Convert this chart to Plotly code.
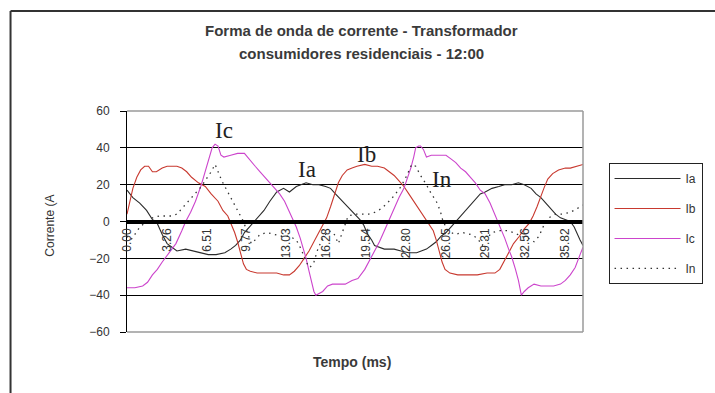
import plotly.graph_objects as go

# Current waveforms (time in ms, current in A) for the residential transformer at 12:00
IA = [(0.00, 17), (0.48, 13), (1.04, 10), (1.60, 6), (2.08, 1), (2.40, 0), (2.88, -7), (3.28, -12),
      (3.68, -14), (4.08, -16), (4.80, -15), (5.44, -16), (6.08, -17), (6.64, -18), (7.28, -18),
      (8.00, -17), (8.48, -15), (8.88, -13), (9.28, -10), (9.60, -6), (10.00, -3), (10.40, 0),
      (10.80, 3), (11.20, 6), (11.68, 11), (12.24, 16), (12.80, 18), (13.28, 16), (13.84, 19),
      (14.64, 21), (15.20, 20), (15.68, 20), (16.24, 19), (16.64, 18), (17.04, 15), (17.60, 11),
      (18.08, 8), (18.64, 4), (19.04, 1), (19.36, -2), (19.68, -7), (20.00, -10), (20.24, -13),
      (21.04, -15), (21.84, -15), (22.40, -16), (23.04, -17), (23.68, -17), (24.08, -16),
      (24.48, -15), (24.88, -13), (25.28, -11), (25.68, -8), (26.08, -6), (26.48, -3), (26.88, 0),
      (27.28, 3), (27.68, 6), (28.08, 9), (28.48, 12), (28.88, 15), (29.28, 16), (29.84, 18),
      (30.40, 19), (30.88, 20), (31.44, 20), (32.00, 21), (32.48, 20), (33.04, 18), (33.44, 15),
      (33.84, 13), (34.24, 10), (34.64, 7), (35.04, 4), (35.44, 2), (35.84, 1), (36.24, 0),
      (36.56, -3), (36.80, -7), (37.04, -10), (37.28, -13)]

IB = [(0.00, 4), (0.24, 11), (0.48, 18), (0.80, 24), (1.12, 28), (1.44, 30), (1.76, 30), (2.08, 27),
      (2.40, 27), (2.88, 29), (3.28, 30), (3.68, 30), (4.08, 30), (4.48, 29), (4.88, 27), (5.28, 24),
      (5.84, 21), (6.40, 19), (6.88, 15), (7.44, 11), (7.84, 6), (8.24, 3), (8.56, -2), (8.80, -6),
      (9.04, -11), (9.28, -17), (9.52, -23), (9.76, -26), (10.08, -27), (10.64, -28), (11.20, -28),
      (11.68, -28), (12.24, -28), (12.80, -29), (13.28, -29), (13.68, -27), (14.08, -24),
      (14.48, -20), (14.88, -16), (15.28, -11), (15.68, -6), (16.00, -2), (16.32, 2), (16.64, 8),
      (16.96, 15), (17.28, 21), (17.60, 25), (18.00, 28), (18.40, 29), (18.80, 30), (19.44, 31),
      (20.00, 30), (20.48, 30), (21.04, 29), (21.44, 27), (21.84, 25), (22.24, 22), (22.64, 19),
      (23.04, 15), (23.44, 11), (23.84, 7), (24.24, 3), (24.64, -1), (25.04, -5), (25.28, -10),
      (25.52, -16), (25.76, -22), (26.00, -26), (26.40, -28), (27.04, -29), (27.84, -29),
      (28.64, -29), (29.44, -28), (30.08, -28), (30.48, -26), (30.80, -22), (31.20, -17),
      (31.60, -12), (32.08, -8), (32.48, -4), (32.88, -1), (33.20, 3), (33.52, 8), (33.84, 14),
      (34.08, 18), (34.40, 23), (34.80, 26), (35.28, 28), (35.84, 29), (36.24, 29), (36.72, 30),
      (37.28, 31)]

IC = [(0.00, -36), (0.64, -36), (1.28, -35), (1.68, -33), (2.08, -29), (2.48, -26), (2.88, -22),
      (3.44, -17), (4.00, -12), (4.48, -5), (4.80, 0), (5.20, 5), (5.60, 11), (6.08, 20), (6.40, 27),
      (6.72, 34), (6.96, 40), (7.20, 42), (7.44, 41), (7.68, 36), (7.92, 35), (8.48, 36), (9.04, 37),
      (9.60, 37), (10.08, 33), (10.48, 30), (10.88, 27), (11.28, 24), (11.68, 21), (12.08, 18),
      (12.48, 15), (12.88, 11), (13.28, 5), (13.60, 1), (13.84, -3), (14.16, -9), (14.40, -14),
      (14.64, -20), (14.88, -27), (15.12, -33), (15.28, -38), (15.44, -40), (15.68, -39),
      (16.00, -38), (16.40, -35), (16.80, -34), (17.28, -34), (17.84, -34), (18.40, -32),
      (18.88, -31), (19.44, -26), (19.84, -21), (20.24, -16), (20.64, -11), (21.04, -5), (21.44, 1),
      (21.84, 8), (22.24, 13), (22.64, 18), (22.96, 24), (23.20, 29), (23.44, 35), (23.60, 40),
      (23.84, 41), (24.00, 41), (24.24, 39), (24.48, 35), (24.88, 36), (25.28, 36), (25.68, 36),
      (26.08, 36), (26.48, 34), (26.88, 32), (27.28, 29), (27.68, 27), (28.08, 24), (28.48, 21),
      (28.88, 17), (29.28, 15), (29.68, 10), (30.08, 4), (30.48, -2), (30.88, -9), (31.20, -15),
      (31.44, -19), (31.76, -26), (32.00, -32), (32.24, -40), (32.48, -38), (32.80, -36),
      (33.28, -34), (33.84, -35), (34.40, -35), (34.88, -35), (35.44, -34), (35.84, -32),
      (36.24, -29), (36.64, -25), (37.04, -18), (37.28, -14)]

IN = [(0.00, -8), (0.32, -10), (0.64, -7), (1.04, -3), (1.60, 0), (2.08, 2), (2.64, 3), (3.20, 3),
      (3.68, 3), (4.08, 4), (4.48, 7), (4.88, 10), (5.28, 13), (5.68, 16), (6.08, 19), (6.48, 23),
      (6.88, 27), (7.20, 31), (7.44, 27), (7.76, 22), (8.16, 17), (8.56, 12), (8.88, 8), (9.20, 4),
      (9.52, 0), (9.84, -6), (10.16, -12), (10.48, -10), (10.88, -7), (11.44, -6), (12.00, -7),
      (12.64, -8), (13.28, -8), (13.84, -10), (14.24, -15), (14.64, -22), (14.96, -25),
      (15.28, -22), (15.60, -15), (16.00, -9), (16.48, -5), (16.88, -6), (17.28, -12), (17.68, -4),
      (18.08, 3), (18.64, 4), (19.20, 4), (19.76, 4), (20.24, 5), (20.80, 7), (21.28, 10),
      (21.84, 14), (22.40, 19), (22.88, 25), (23.28, 31), (23.60, 30), (24.00, 25), (24.48, 20),
      (24.88, 15), (25.28, 11), (25.60, 6), (25.84, 0), (26.24, -5), (26.80, -7), (27.44, -6),
      (28.08, -7), (28.64, -9), (29.04, -13), (29.44, -9), (29.84, -6), (30.48, -5), (31.04, -5),
      (31.60, -6), (32.24, -8), (32.80, -9), (33.28, -11), (33.68, -8), (34.08, -2), (34.48, 2),
      (35.04, 4), (35.60, 4), (36.24, 5), (36.80, 7), (37.28, 9)]

TICK_MS = [0.00, 3.26, 6.51, 9.77, 13.03, 16.28, 19.54, 22.80, 26.05, 29.31, 32.56, 35.82]
TICK_TEXT = ["0.00", "3.26", "6.51", "9.77", "13.03", "16.28", "19.54", "22.80",
             "26.05", "29.31", "32.56", "35.82"]
Y_TICKS = [-60, -40, -20, 0, 20, 40, 60]

SERIES = [
    ("Ia", IA, dict(color="#2b2b2b", width=1.1)),
    ("Ib", IB, dict(color="#c8392f", width=1.1)),
    ("Ic", IC, dict(color="#cc44cc", width=1.1)),
    ("In", IN, dict(color="#333333", width=1.3, dash="1.5px,4.5px")),
]

# In-plot series captions (time ms, current A)
CAPTIONS = [("Ic", 7.92, 49.2), ("Ia", 14.72, 28.1), ("Ib", 19.60, 36.2), ("In", 25.76, 22.7)]

fig = go.Figure()
for name, pts, line in SERIES:
    fig.add_trace(go.Scatter(
        x=[p[0] for p in pts], y=[p[1] for p in pts], name=name, mode="lines",
        line=line, legendgroup=name,
    ))

sans = "Liberation Sans, Arial, sans-serif"
serif = "Liberation Serif, Times New Roman, serif"

annotations = [
    dict(text="<b>Forma de onda de corrente - Transformador</b>", x=0.515, y=1.362,
         xref="paper", yref="paper", showarrow=False, xanchor="center", yanchor="middle",
         font=dict(family=sans, size=15, color="#3a3a3a")),
    dict(text="<b>consumidores residenciais - 12:00</b>", x=0.515, y=1.258,
         xref="paper", yref="paper", showarrow=False, xanchor="center", yanchor="middle",
         font=dict(family=sans, size=15, color="#3a3a3a")),
    dict(text="<b>Tempo (ms)</b>", x=0.494, y=-0.136, xref="paper", yref="paper",
         showarrow=False, xanchor="center", yanchor="middle",
         font=dict(family=sans, size=14, color="#3a3a3a")),
    dict(text="Corrente (A", x=-0.1695, y=0.48, xref="paper", yref="paper", textangle=-90,
         showarrow=False, xanchor="center", yanchor="middle",
         font=dict(family=sans, size=12, color="#333")),
]
for label, tx, vy in CAPTIONS:
    annotations.append(dict(text=label, x=tx, y=vy, xref="x", yref="y", showarrow=False,
                            xanchor="center", yanchor="middle",
                            font=dict(family=serif, size=23, color="#222")))

shapes = [
    # plot-area frame (top, right, bottom)
    dict(type="line", xref="paper", yref="paper", x0=0, x1=1, y0=1, y1=1,
         line=dict(color="#9a9a9a", width=1.5), layer="above"),
    dict(type="line", xref="paper", yref="paper", x0=1, x1=1, y0=0, y1=1,
         line=dict(color="#9a9a9a", width=1.5), layer="above"),
    dict(type="line", xref="paper", yref="paper", x0=0, x1=1, y0=0, y1=0,
         line=dict(color="#9a9a9a", width=1.5), layer="above"),
    # chart-area frame (left and top edges)
    dict(type="line", xref="paper", yref="paper", x0=-0.2554, x1=-0.2554, y0=-0.3, y1=1.452,
         line=dict(color="#333", width=2)),
    dict(type="line", xref="paper", yref="paper", x0=-0.2554, x1=1.3, y0=1.452, y1=1.452,
         line=dict(color="#333", width=2)),
]

fig.update_layout(
    width=715, height=393,
    margin=dict(l=127, r=122, t=111, b=61),
    paper_bgcolor="white", plot_bgcolor="white",
    showlegend=True,
    legend=dict(x=1.056, y=0.765, xanchor="left", yanchor="top",
                bordercolor="#222", borderwidth=1, bgcolor="white",
                font=dict(family=sans, size=12, color="#333"),
                tracegroupgap=11, itemwidth=66, traceorder="grouped"),
    annotations=annotations,
    shapes=shapes,
    xaxis=dict(
        range=[0, 37.28], anchor="free", position=0.5, side="bottom",
        showline=True, linecolor="black", linewidth=4,
        tickmode="array", tickvals=TICK_MS, ticktext=TICK_TEXT, tickangle=-90,
        ticks="", showgrid=False, zeroline=False,
        tickfont=dict(family=sans, size=12, color="#333"),
    ),
    yaxis=dict(
        range=[-60, 60], tickmode="array", tickvals=Y_TICKS,
        showline=True, linecolor="black", linewidth=1,
        ticks="outside", ticklen=6, tickcolor="black",
        showgrid=True, gridcolor="black", gridwidth=1, zeroline=False,
        ticklabelstandoff=8,
        tickfont=dict(family=sans, size=12, color="#333"),
    ),
)

fig.write_html("out.html")
